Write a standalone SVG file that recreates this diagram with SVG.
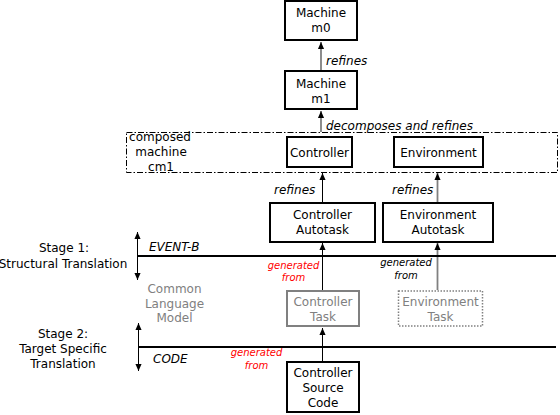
<svg xmlns="http://www.w3.org/2000/svg" width="560" height="415" viewBox="0 0 560 415">
<style>
text{font-family:"DejaVu Sans","Liberation Sans",sans-serif;font-size:12px;fill:#000}
.c{text-anchor:middle}
.i{font-style:italic}
.s{font-size:10px}
.red{fill:#ff0000}
.g{fill:#808080}
.box{fill:#fff;stroke:#000;stroke-width:2}
.gbox{fill:#fff;stroke:#808080;stroke-width:2}
.dbox{fill:#fff;stroke:#808080;stroke-width:1.5;stroke-dasharray:1.5 1.5}
.thin{stroke:#000;stroke-width:1;fill:none}
.gray{stroke:#808080;stroke-width:1.8;fill:none}
.rule{stroke:#000;stroke-width:2;fill:none}
</style>
<defs>
<marker id="ah" viewBox="0 0 8 10" refX="8" refY="5" markerWidth="7" markerHeight="9" markerUnits="userSpaceOnUse" orient="auto-start-reverse">
<path d="M0,1.5 L8,5 L0,8.5 z" fill="#000"/>
</marker>
</defs>
<g id="cm1">
<rect x="126.5" y="132.5" width="431" height="40" fill="none" stroke="#000" stroke-width="1" stroke-dasharray="6 2 1.5 2"/>
<text class="c" x="160" y="141">composed</text>
<text class="c" x="161" y="156">machine</text>
<text class="c" x="161" y="171">cm1</text>
</g>
<g id="connectors">
<line class="gray" x1="321" y1="70" x2="321" y2="42" marker-end="url(#ah)"/>
<line class="gray" x1="321" y1="132" x2="321" y2="111" marker-end="url(#ah)"/>
<line class="thin" x1="322.5" y1="202" x2="322.5" y2="173" marker-end="url(#ah)"/>
<line class="gray" x1="437.5" y1="202" x2="437.5" y2="173" marker-end="url(#ah)"/>
<line class="thin" x1="322.5" y1="290" x2="322.5" y2="243" marker-end="url(#ah)"/>
<line class="gray" x1="437.5" y1="290" x2="437.5" y2="243" marker-end="url(#ah)"/>
<line class="thin" x1="322.5" y1="361" x2="322.5" y2="328" marker-end="url(#ah)"/>
<line class="rule" x1="137" y1="256" x2="556" y2="256"/>
<line class="rule" x1="138" y1="347" x2="556" y2="347"/>
<line class="thin" x1="137.5" y1="232" x2="137.5" y2="280" marker-start="url(#ah)" marker-end="url(#ah)"/>
<line class="thin" x1="138.5" y1="323" x2="138.5" y2="371" marker-start="url(#ah)" marker-end="url(#ah)"/>
</g>
<g id="m0">
<rect class="box" x="285" y="1" width="72" height="39"/>
<text class="c" x="321" y="17">Machine</text>
<text class="c" x="321" y="32">m0</text>
</g>
<g id="m1">
<rect class="box" x="285" y="71" width="72" height="38"/>
<text class="c" x="321" y="88">Machine</text>
<text class="c" x="321" y="103">m1</text>
</g>
<g id="controller">
<rect class="box" x="287" y="137" width="65" height="30"/>
<text class="c" x="319.5" y="157">Controller</text>
</g>
<g id="environment">
<rect class="box" x="394" y="137" width="89" height="30"/>
<text class="c" x="438.5" y="157">Environment</text>
</g>
<g id="controller-autotask">
<rect class="box" x="270" y="203" width="105" height="39"/>
<text class="c" x="322.5" y="219">Controller</text>
<text class="c" x="322.5" y="234">Autotask</text>
</g>
<g id="environment-autotask">
<rect class="box" x="383" y="203" width="110" height="39"/>
<text class="c" x="438" y="219">Environment</text>
<text class="c" x="438" y="234">Autotask</text>
</g>
<g id="controller-task">
<rect class="gbox" x="287" y="291" width="72" height="35"/>
<text class="c g" x="323" y="306">Controller</text>
<text class="c g" x="323" y="321">Task</text>
</g>
<g id="environment-task">
<rect class="dbox" x="398.5" y="291" width="84" height="35"/>
<text class="c g" x="440.5" y="306">Environment</text>
<text class="c g" x="440.5" y="321">Task</text>
</g>
<g id="controller-source">
<rect class="box" x="287" y="362" width="72" height="50"/>
<text class="c" x="323" y="377">Controller</text>
<text class="c" x="323" y="392">Source</text>
<text class="c" x="323" y="407">Code</text>
</g>
<g id="labels">
<text class="i" x="326" y="65">refines</text>
<text class="i" x="326" y="130">decomposes and refines</text>
<text class="i" x="274" y="194">refines</text>
<text class="i" x="392" y="194">refines</text>
<text class="i" x="149" y="251">EVENT-B</text>
<text class="i" x="153" y="363">CODE</text>
<text class="c i s red" x="293.5" y="269">generated</text>
<text class="c i s red" x="293.5" y="281">from</text>
<text class="c i s" x="406" y="266">generated</text>
<text class="c i s" x="406" y="279">from</text>
<text class="c i s red" x="256.5" y="356">generated</text>
<text class="c i s red" x="256.5" y="369">from</text>
<text class="c" x="64" y="252">Stage 1:</text>
<text class="c" x="63" y="268">Structural Translation</text>
<text class="c g" x="174.5" y="293">Common</text>
<text class="c g" x="174.5" y="308">Language</text>
<text class="c g" x="174.5" y="322">Model</text>
<text class="c" x="63" y="338">Stage 2:</text>
<text class="c" x="63" y="353">Target Specific</text>
<text class="c" x="63" y="368">Translation</text>
</g>
</svg>
